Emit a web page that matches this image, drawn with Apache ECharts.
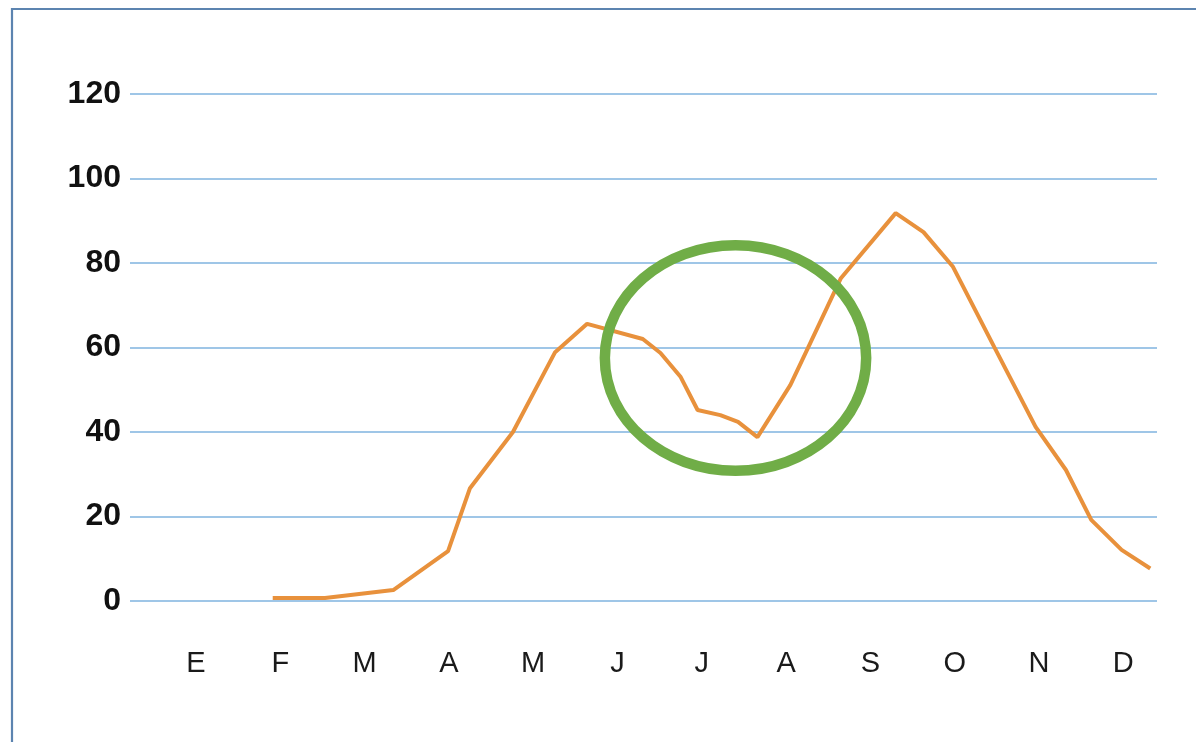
<!DOCTYPE html>
<html>
<head>
<meta charset="utf-8">
<script src="https://cdn.jsdelivr.net/npm/echarts@6/dist/echarts.min.js"></script>
<style>
html,body{margin:0;padding:0;background:#fff;}
#chart{width:1196px;height:742px;}
</style>
</head>
<body>
<div id="chart"></div>
<script>
// Month labels (Spanish initials), positioned at month index 0..11
const monthLabels = ['E','F','M','A','M','J','J','A','S','O','N','D'];
// Fractional month position of each point along the curve
const pointMonths = [0.91,1.53,2.34,2.99,3.25,3.76,4.26,4.64,5.30,5.51,5.75,5.95,6.22,6.43,6.66,7.05,7.26,7.65,8.30,8.63,8.98,9.47,9.96,10.32,10.62,10.98,11.32];
// Values
const pointValues = [0.7,0.7,2.6,11.8,26.7,40,58.9,65.6,62.0,58.7,53.0,45.2,44.0,42.4,38.8,51.1,59.9,76.4,91.8,87.3,79.1,60.1,41.2,31.0,19.2,12.1,7.7];
// Y axis ticks
const yTicks = [0,20,40,60,80,100,120];
// Highlight ellipse (in data units): centre month, centre value, half-width (months), half-height (value)
const highlight = {month: 6.40, value: 57.5, halfMonths: 1.55, halfValue: 26.7};

const seriesData = pointMonths.map((m, i) => [m, pointValues[i]]);

const chart = echarts.init(document.getElementById('chart'), null, {renderer: 'canvas'});
const option = {
  backgroundColor: '#ffffff',
  animation: false,
  grid: {left: 130, right: 39, top: 94, bottom: 141},
  xAxis: {
    type: 'value',
    min: -0.783,
    max: 11.40,
    axisLine: {show: false},
    axisTick: {show: false},
    splitLine: {show: false},
    axisLabel: {
      customValues: monthLabels.map((_, i) => i),
      formatter: v => monthLabels[Math.round(v)],
      fontFamily: 'Liberation Sans, Arial, sans-serif',
      fontSize: 29,
      color: '#1a1a1a',
      margin: 48
    }
  },
  yAxis: {
    type: 'value',
    min: yTicks[0],
    max: yTicks[yTicks.length - 1],
    interval: 20,
    axisLine: {show: false},
    axisTick: {show: false},
    splitLine: {lineStyle: {color: '#9fc6e7', width: 2}},
    axisLabel: {
      fontFamily: 'Liberation Sans, Arial, sans-serif',
      fontSize: 32,
      fontWeight: 'bold',
      color: '#111111',
      margin: 9
    }
  },
  series: [{
    type: 'line',
    data: seriesData,
    showSymbol: false,
    smooth: false,
    lineStyle: {color: '#e8913c', width: 4},
    z: 3
  }]
};
chart.setOption(option);

const c = chart.convertToPixel({gridIndex: 0}, [highlight.month, highlight.value]);
const e = chart.convertToPixel({gridIndex: 0}, [highlight.month + highlight.halfMonths, highlight.value + highlight.halfValue]);
chart.setOption({
  graphic: [
    {
      type: 'rect',
      shape: {x: 12, y: 9, width: 1300, height: 900},
      style: {fill: 'none', stroke: '#5c84b0', lineWidth: 2.2},
      z: 100
    },
    {
      type: 'ellipse',
      shape: {cx: c[0], cy: c[1], rx: Math.abs(e[0] - c[0]), ry: Math.abs(c[1] - e[1])},
      style: {fill: 'none', stroke: '#70ad47', lineWidth: 10.5},
      z: 100
    }
  ]
});
</script>
</body>
</html>
